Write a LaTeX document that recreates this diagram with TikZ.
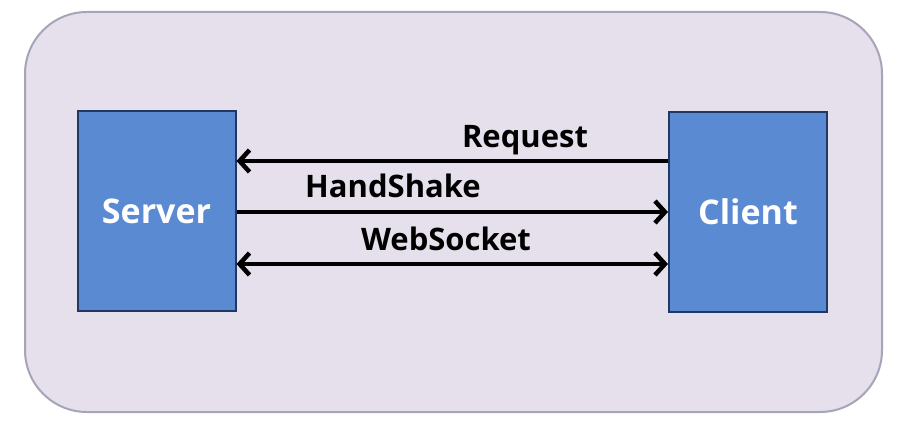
\documentclass[tikz,border=0pt]{standalone}
\usepackage{fontspec}
\setmainfont{Open Sans}
\usetikzlibrary{arrows.meta}
\definecolor{bgfill}{HTML}{E6E0EC}
\definecolor{bgline}{HTML}{A8A4B8}
\definecolor{boxfill}{HTML}{5A8AD2}
\definecolor{boxline}{HTML}{1F3864}
\tikzset{
  entity/.style={draw=boxline, line width=2pt, fill=boxfill, minimum width=158pt, minimum height=200pt, inner sep=0pt, text=white, font=\fontsize{34}{36}\selectfont\bfseries},
  msg/.style={line width=4.5pt, -{Straight Barb[length=10pt,width=22pt]}},
  dmsg/.style={line width=4.5pt, {Straight Barb[length=10pt,width=22pt]}-{Straight Barb[length=10pt,width=22pt]}},
  lbl/.style={font=\fontsize{31}{33}\selectfont\bfseries, inner sep=0pt, anchor=base}
}
\begin{document}
\begin{tikzpicture}[x=1pt,y=-1pt]
\useasboundingbox (0,0) rectangle (902,422);
\fill[white] (0,0) rectangle (902,422);
\draw[draw=bgline, fill=bgfill, line width=2pt, rounded corners=62pt] (25,12) rectangle (882,412);
\node[entity] (server) at (156.5,211) {Server};
\node[entity] (client) at (748,212) {Client};
\draw[msg] ([yshift=51pt]client.west) -- ([yshift=51pt]client.west -| server.east);
\draw[msg] ([yshift=-1pt]server.east) -- ([yshift=-1pt]server.east -| client.west);
\draw[dmsg] ([yshift=-53pt]server.east) -- ([yshift=-53pt]server.east -| client.west);
\node[lbl] (lreq) at (525,148) {Request};
\node[lbl] (lhs) at (393,197) {HandShake};
\node[lbl] (lws) at (446,251) {WebSocket};
\end{tikzpicture}
\end{document}
